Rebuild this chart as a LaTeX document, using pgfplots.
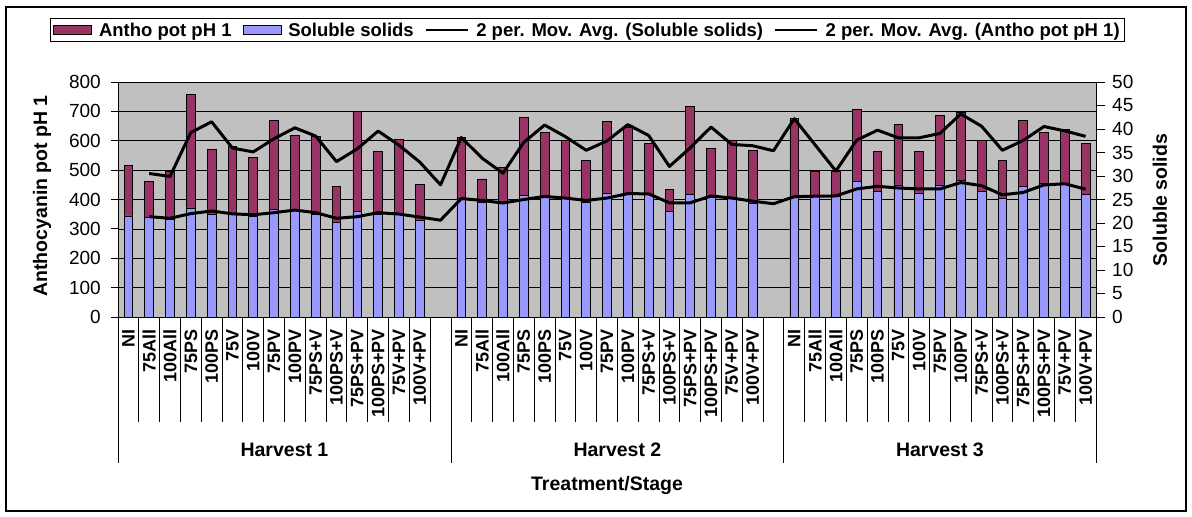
\documentclass[border=0pt]{standalone}
\usepackage{fontspec}
\setmainfont{Liberation Sans}
\usepackage{pgfplots}
\usepackage{pgfplotstable}
\pgfplotsset{compat=1.18}
\definecolor{antho}{HTML}{993366}
\definecolor{solub}{HTML}{9999FF}
\definecolor{plotgray}{HTML}{C0C0C0}
\newcommand{\fs}[1]{\fontsize{#1}{#1}\selectfont}

\pgfplotstableread{
x A S
0 517 21.5
1 460 21.2
2 497 20.8
3 759 23.2
4 570 21.9
5 580 22.0
6 544 21.5
7 670 22.9
8 618 22.6
9 614 21.8
10 444 20.2
11 701 22.5
12 565 21.9
13 605 21.9
14 450 20.6
16 611 25.2
17 470 24.4
18 509 24.1
19 680 25.9
20 627 25.4
21 601 25.2
22 534 24.4
23 665 26.2
24 645 26.3
25 591 26.1
26 434 22.5
27 718 26.1
28 575 25.4
29 600 25.2
30 566 24.1
32 675 25.6
33 497 25.8
34 497 25.7
35 707 28.8
36 565 26.8
37 655 28.1
38 565 26.4
39 685 28.1
40 697 29.1
41 602 26.8
42 533 25.2
43 669 27.8
44 628 28.4
45 639 28.3
46 591 26.1
}\bars

\pgfplotstableread{
x MA MS
1 488.5 21.35
2 478.5 21.0
3 628 22.0
4 664.5 22.55
5 575 21.95
6 562 21.75
7 607 22.2
8 644 22.75
9 616 22.2
10 529 21.0
11 572.5 21.35
12 633 22.2
13 585 21.9
14 527.5 21.25
15 450 20.6
16 611 25.2
17 540.5 24.8
18 489.5 24.25
19 594.5 25.0
20 653.5 25.65
21 614 25.3
22 567.5 24.8
23 599.5 25.3
24 655 26.25
25 618 26.2
26 512.5 24.3
27 576 24.3
28 646.5 25.75
29 587.5 25.3
30 583 24.65
31 566 24.1
32 675 25.6
33 586 25.7
34 497 25.75
35 602 27.25
36 636 27.8
37 610 27.45
38 610 27.25
39 625 27.25
40 691 28.6
41 649.5 27.95
42 567.5 26.0
43 601 26.5
44 648.5 28.1
45 633.5 28.35
46 615 27.2
}\mavg

\pgfplotsset{
  base/.style={
    at={(118bp,200bp)}, anchor=south west,
    scale only axis, width=978bp, height=235bp,
    xmin=-0.5, xmax=46.5,
    clip=false,
    /pgf/number format/assume math mode=true,
    tick label style={font=\fs{19bp}},
  },
}

\begin{document}
\begin{tikzpicture}
\useasboundingbox (0bp,0bp) rectangle (1192bp,517bp);
\draw[line width=1.5bp] (6bp,6bp) rectangle (1186bp,510bp);

\begin{axis}[base,
  ymin=0, ymax=800, ytick={0,100,...,800},
  axis y line*=left, axis x line*=bottom,
  axis line style={black, line width=0.8bp, -},
  axis background/.style={fill=plotgray},
  ymajorgrids, grid style={black, line width=0.7bp},
  ytick style={black, line width=0.8bp},
  tick align=outside, major tick length=7bp,
  yticklabel style={anchor=east, inner sep=0pt, xshift=-10bp},
  xtick={0,...,46},
  xticklabels={NI,75All,100All,75PS,100PS,75V,100V,75PV,100PV,75PS+V,100PS+V,75PS+PV,100PS+PV,75V+PV,100V+PV,{},NI,75All,100All,75PS,100PS,75V,100V,75PV,100PV,75PS+V,100PS+V,75PS+PV,100PS+PV,75V+PV,100V+PV,{},NI,75All,100All,75PS,100PS,75V,100V,75PV,100PV,75PS+V,100PS+V,75PS+PV,100PS+PV,75V+PV,100V+PV},
  xtick style={draw=none},
  xticklabel shift=5bp,
  xticklabel style={rotate=90, anchor=east, inner sep=0pt, font=\bfseries\fs{18bp}},
  ylabel={\bfseries Anthocyanin pot pH 1},
  every axis y label/.style={at={(axis description cs:-0.0777,0.515)}, rotate=90, anchor=center, font=\fs{19.5bp}},
  xlabel={\bfseries Treatment/Stage},
  every axis x label/.style={at={(axis description cs:0.5,-0.715)}, anchor=center, font=\fs{19.5bp}},
  ybar, bar width=0.42,
]
\addplot[fill=antho, draw=black, line width=0.8bp] table[x=x,y=A]{\bars};
\pgfplotsinvokeforeach{0.5,1.5,2.5,3.5,4.5,5.5,6.5,7.5,8.5,9.5,10.5,11.5,12.5,13.5,14.5,16.5,17.5,18.5,19.5,20.5,21.5,22.5,23.5,24.5,25.5,26.5,27.5,28.5,29.5,30.5,32.5,33.5,34.5,35.5,36.5,37.5,38.5,39.5,40.5,41.5,42.5,43.5,44.5,45.5}{
  \draw[black, line width=0.8bp] (axis cs:#1,0) -- ++(0bp,-105bp);
}
\pgfplotsinvokeforeach{-0.5,15.5,31.5,46.5}{
  \draw[black, line width=0.8bp] (axis cs:#1,0) -- ++(0bp,-146bp);
}
\node[font=\bfseries\fs{19.5bp}] at (axis cs:7.5,0) [yshift=-133bp] {Harvest 1};
\node[font=\bfseries\fs{19.5bp}] at (axis cs:23.5,0) [yshift=-133bp] {Harvest 2};
\node[font=\bfseries\fs{19.5bp}] at (axis cs:39,0) [yshift=-133bp] {Harvest 3};
\end{axis}

\begin{axis}[base,
  ymin=0, ymax=50, ytick={0,5,...,50},
  axis y line*=right, axis x line=none,
  axis line style={black, line width=0.8bp, -},
  ytick style={black, line width=0.8bp},
  tick align=outside, major tick length=9bp,
  yticklabel style={anchor=west, inner sep=0pt, xshift=7bp},
  ylabel={\bfseries Soluble solids},
  every axis y label/.style={at={(axis description cs:1.0654,0.498)}, rotate=90, anchor=center, font=\fs{19.5bp}},
  ybar, bar width=0.42,
]
\addplot[fill=solub, draw=black, line width=0.8bp] table[x=x,y=S]{\bars};
\addplot[sharp plot, black, line width=3bp, line join=round] table[x=x,y=MS]{\mavg};
\end{axis}

\begin{axis}[base, ymin=0, ymax=800, hide axis,
  legend columns=4,
  legend style={at={(axis description cs:0.48,1.221)}, anchor=center, draw=black, line width=1bp,
    font=\bfseries\fs{18.5bp},
    /tikz/every odd column/.append style={column sep=5bp},
    /tikz/every even column/.append style={column sep=9bp}},
]
\addlegendimage{legend image code/.code={\draw[fill=antho,draw=black,line width=0.8bp] (0bp,-4.5bp) rectangle (38bp,4.5bp);}}
\addlegendimage{legend image code/.code={\draw[fill=solub,draw=black,line width=0.8bp] (0bp,-4.5bp) rectangle (38bp,4.5bp);}}
\addlegendimage{legend image code/.code={\draw[black,line width=2.6bp] (0bp,0bp) -- (42bp,0bp);}}
\addplot[black, line width=3bp, line join=round, legend image code/.code={\draw[black,line width=2.6bp] (0bp,0bp) -- (42bp,0bp);}] table[x=x,y=MA]{\mavg};
\legend{Antho pot pH 1, Soluble solids, 2 per. Mov. Avg. (Soluble solids), 2 per. Mov. Avg. (Antho pot pH 1)}
\end{axis}
\end{tikzpicture}
\end{document}
